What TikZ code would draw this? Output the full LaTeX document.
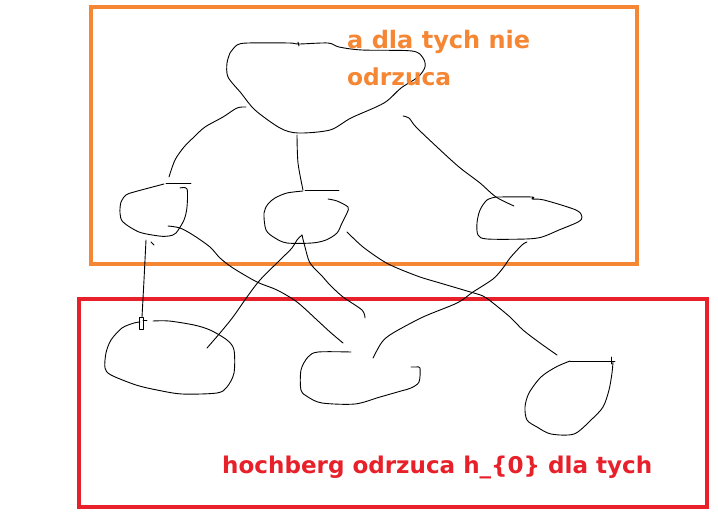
\documentclass[tikz,border=0pt]{standalone}
\usepackage{fontspec}
\usepackage{graphicx}
\newfontfamily\sketchfont{DejaVu Sans}
\definecolor{paintorange}{HTML}{F58634}
\definecolor{paintred}{HTML}{E8202A}
\tikzset{
  sk/.style={line width=0.9pt, black, line join=round, line cap=round},
  frameorange/.style={draw=paintorange, line width=4pt},
  framered/.style={draw=paintred, line width=4pt},
  lbl/.style={inner sep=0pt, anchor=base west, font=\sketchfont\bfseries}
}
\begin{document}
\begin{tikzpicture}[x=1pt,y=-1pt]
\useasboundingbox (0,0) rectangle (718,514);
\fill[white] (0,0) rectangle (718,514);
% frames
\draw[frameorange] (91,7) rectangle (637,264);
\draw[framered] (79,299) rectangle (707,507);
% top blob
\draw[sk] plot[smooth,tension=0.5] coordinates {(230,53) (237,45) (248,43) (289,43) (299,44) (328,43) (339,47) (362,50) (412,51) (423,58) (425,67) (418,77) (401,88) (384,103) (351,118) (330,130) (298,133) (280,128) (255,110) (241,93) (228,77) (227,63) (230,53)};
\draw[sk] (298,42) -- (299,46);
% top blob -> children
\draw[sk] plot[smooth,tension=0.5] coordinates {(246,107) (237,108) (223,117) (205,127) (194,137) (184,147) (175,160) (169,177)};
\draw[sk] (166,183) -- (191,183);
\draw[sk] plot[smooth,tension=0.5] coordinates {(297,135) (298,163) (303,190)};
\draw[sk] (305,190) -- (339,190);
\draw[sk] plot[smooth,tension=0.5] coordinates {(403,116) (409,118) (416,127) (437,147) (459,167) (480,183) (496,197) (514,206)};
% left child
\draw[sk] plot[smooth,tension=0.5] coordinates {(180,188) (187,189) (187,207) (184,220) (176,233) (169,236) (159,236) (139,232) (123,222) (120,213) (121,202) (126,195) (134,192) (164,184)};
% middle child
\draw[sk] plot[smooth,tension=0.5] coordinates {(328,199) (337,201) (348,207) (347,213) (342,223) (337,233) (326,240) (312,243) (287,243) (275,238) (266,230) (264,213) (268,204) (275,198) (287,193) (303,191)};
% right child
\draw[sk] plot[smooth,tension=0.5] coordinates {(496,197) (532,197) (532,199) (544,200) (576,210) (582,217) (578,222) (559,230) (542,237) (526,239) (487,239) (478,235) (477,223) (480,210) (487,200) (496,197)};
% children -> bottom row
\draw[sk] plot[smooth,tension=0.5] coordinates {(146,240) (144,280) (142,317)};
\draw[sk] (139,317) rectangle (143,329);
\draw[sk] (143,320) -- (147,320);
\draw[sk] (151,242) -- (154,245);
\draw[sk] plot[smooth,tension=0.5] coordinates {(168,226) (180,228) (193,235) (210,247) (220,258) (233,268) (257,282) (277,290) (297,302) (317,320) (330,332) (343,343)};
\draw[sk] plot[smooth,tension=0.5] coordinates {(302,235) (297,240) (292,248) (280,260) (260,280) (247,297) (233,317) (220,333) (207,348)};
\draw[sk] plot[smooth,tension=0.5] coordinates {(302,235) (305,247) (310,263) (322,276) (330,285) (343,297) (362,310) (365,318)};
\draw[sk] plot[smooth,tension=0.5] coordinates {(347,232) (363,247) (383,261) (397,268) (420,277) (440,283) (467,291) (483,296) (493,303) (510,317) (523,330) (540,343) (557,355)};
\draw[sk] plot[smooth,tension=0.5] coordinates {(527,242) (522,245) (510,258) (503,268) (493,279) (473,292) (457,303) (423,317) (393,333) (382,342) (373,358)};
% bottom-left blob
\draw[sk] plot[smooth,tension=0.5] coordinates {(153,321) (169,321) (194,325) (210,330) (227,340) (234,350) (234,373) (227,387) (217,393) (182,394) (157,390) (136,385) (111,375) (105,368) (106,353) (111,340) (122,328) (134,323) (140,322)};
% bottom-middle blob
\draw[sk] plot[smooth,tension=0.5] coordinates {(351,352) (318,352) (308,357) (301,370) (301,390) (308,397) (322,403) (355,404) (380,397) (401,391) (411,388) (419,382) (420,368) (416,367) (411,367)};
% bottom-right blob
\draw[sk] (570,361) -- (615,361);
\draw[sk] (611,357) -- (611,364);
\draw[sk] plot[smooth,tension=0.5] coordinates {(613,362) (612,373) (609,390) (603,407) (591,420) (574,434) (551,434) (537,427) (527,420) (525,407) (529,393) (541,377) (556,367) (570,361)};
% labels
\node[lbl, text=paintorange] (t1) at (347,48) {\resizebox{183pt}{!}{a dla tych nie}};
\node[lbl, text=paintorange] (t2) at (347,85) {\resizebox{104pt}{!}{odrzuca}};
\node[lbl, text=paintred] (t3) at (222,473) {\resizebox{430pt}{!}{hochberg odrzuca h\_\{0\} dla tych}};
\end{tikzpicture}
\end{document}
